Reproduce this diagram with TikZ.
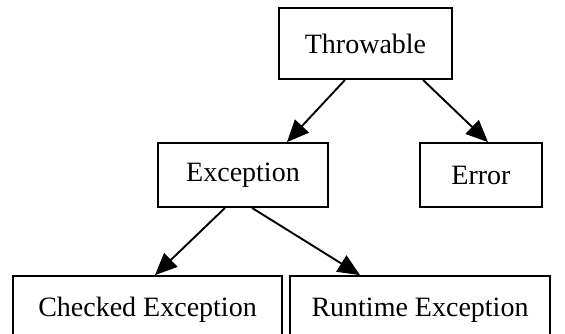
\documentclass[tikz,border=0pt]{standalone}
\usepackage{fontspec}
\setmainfont{Liberation Serif}
\usetikzlibrary{arrows.meta}
\begin{document}
\begin{tikzpicture}[x=1pt,y=-1pt,
  box/.style={draw,line width=1.8pt,inner sep=0pt,font=\fontsize{28}{34}\selectfont},
  arr/.style={line width=1.9pt,-{Triangle[length=22pt,width=19pt]}}]
\useasboundingbox (0,0) rectangle (565,333);
\clip (0,0) rectangle (565,333);
\fill[white] (0,0) rectangle (565,333);
\node[box,minimum width=173pt,minimum height=71pt] (T) at (365.5,43.5) {Throwable};
\node[box,minimum width=170pt,minimum height=64pt] (E) at (243,175) {Exception};
\node[box,minimum width=122pt,minimum height=64pt] (R) at (481,175) {Error};
\node[box,minimum width=269pt,minimum height=68pt] (C) at (147.5,310) {Checked Exception};
\node[box,minimum width=260pt,minimum height=68pt] (U) at (420,310) {Runtime Exception};
\draw[arr] ([xshift=-20.5pt]T.south) -- ([xshift=44pt]E.north);
\draw[arr] ([xshift=57.5pt]T.south) -- ([xshift=7pt]R.north);
\draw[arr] ([xshift=-18pt]E.south) -- ([xshift=7.5pt]C.north);
\draw[arr] ([xshift=9pt]E.south) -- ([xshift=-60pt]U.north);
\end{tikzpicture}
\end{document}
